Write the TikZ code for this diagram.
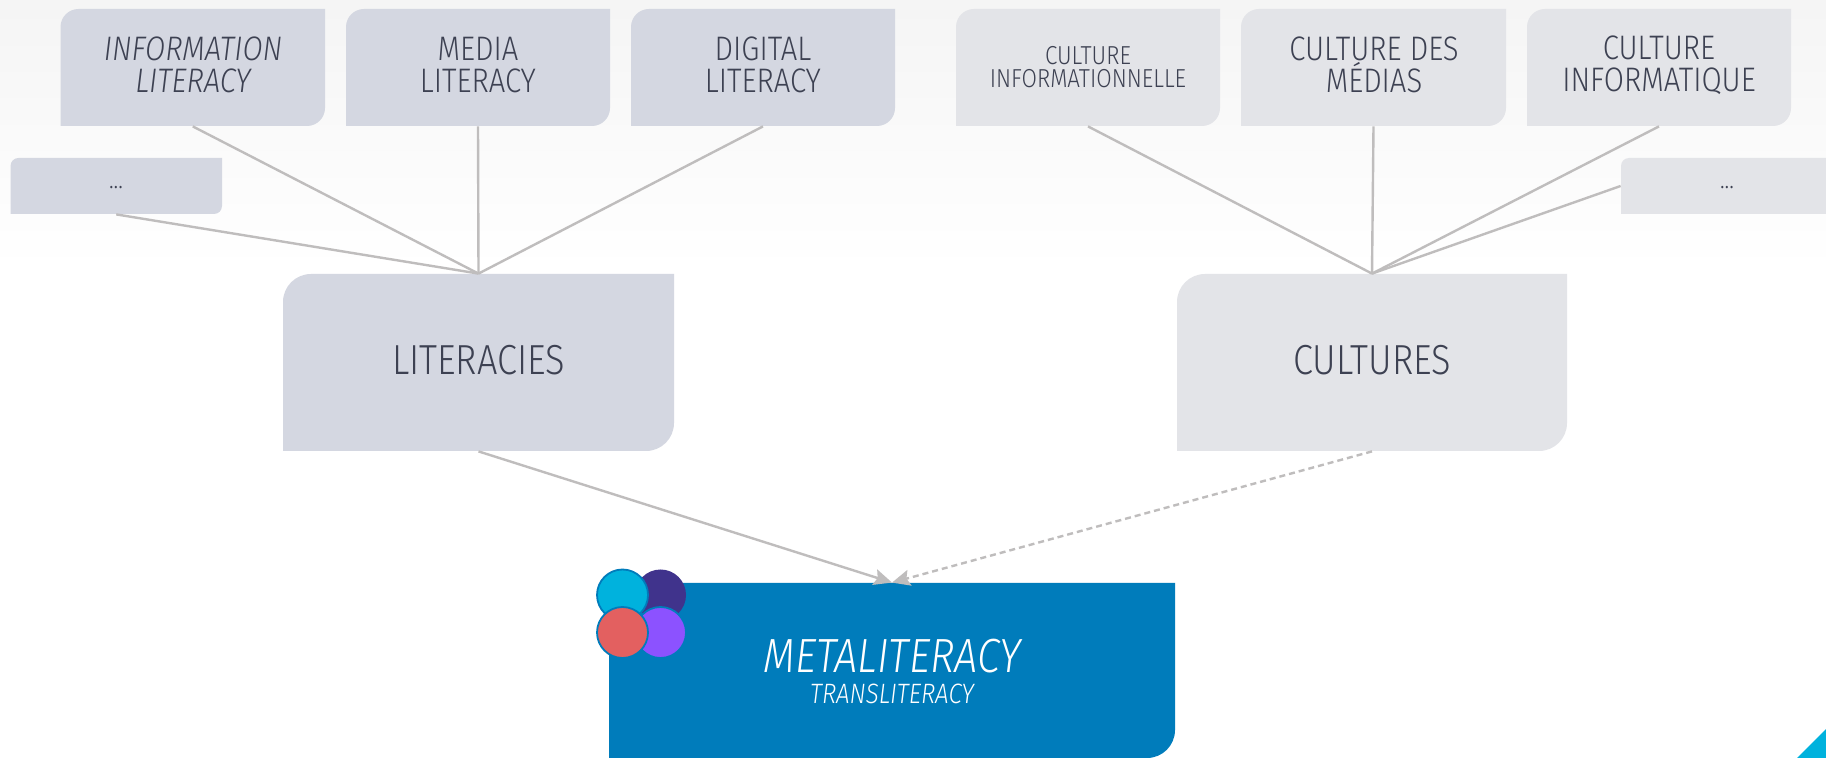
\documentclass[tikz,border=0pt]{standalone}
\usepackage{fontspec}
\setmainfont{Fira Sans Light}[FakeStretch=0.86]
\newfontfamily\itf{Fira Sans Light Italic}[FakeStretch=0.86]
\usetikzlibrary{arrows.meta,calc}
\definecolor{litc}{HTML}{D4D7E1}
\definecolor{culc}{HTML}{E3E4E8}
\definecolor{inkc}{HTML}{3D4152}
\definecolor{linec}{HTML}{BFBDBD}
\definecolor{metac}{HTML}{007CBB}
\definecolor{cyanc}{HTML}{00B2DD}
\definecolor{navyc}{HTML}{40338C}
\definecolor{redc}{HTML}{E36060}
\definecolor{purpc}{HTML}{8C52FF}
\newcommand{\shapebox}[7]{%
  \fill[#7] (#2,#5) [rounded corners=#6*0.5pt] -- (#2,#3) [sharp corners] -- (#4,#3) [rounded corners=#6*0.5pt] -- (#4,#5) [sharp corners] -- cycle;
  \coordinate (#1 c) at ({(#2+#4)/2},{(#3+#5)/2});
  \node[inner sep=0pt,minimum width={(#4-#2)*0.5pt},minimum height={(#5-#3)*0.5pt}] (#1) at (#1 c) {};
}
\tikzset{
  x=0.5pt,y=-0.5pt,
  lbl/.style={text=inkc,align=center,inner sep=0pt},
  link/.style={draw=linec,line width=1.2pt},
  petal/.style={draw=metac,line width=0.9pt},
}
\begin{document}
\begin{tikzpicture}
\useasboundingbox (0,0) rectangle (1826,758);
\fill[top color=white!0!white,bottom color=white] (0,0) rectangle (1826,758);
\fill[top color=white,bottom color=white] (0,0) rectangle (1826,758);
\shade[top color=black!4!white,bottom color=white] (0,0) rectangle (1826,270);
\fill[cyanc] (1826,729) -- (1826,758) -- (1797,758) -- cycle;
% boxes
\shapebox{i1}{60.5}{9}{325}{126}{18}{litc}
\shapebox{i2}{346}{9}{610}{126}{18}{litc}
\shapebox{i3}{631}{9}{895}{126}{18}{litc}
\shapebox{dl}{10.5}{158}{222}{214}{8}{litc}
\shapebox{lit}{283}{274}{674}{451}{28}{litc}
\shapebox{c1}{956}{9}{1220}{126}{18}{culc}
\shapebox{c2}{1241}{9}{1506}{126}{18}{culc}
\shapebox{c3}{1527}{9}{1791}{126}{18}{culc}
\shapebox{dr}{1621}{158}{1840}{214}{8}{culc}
\shapebox{cul}{1177}{274}{1567}{451}{28}{culc}
\shapebox{meta}{609}{583}{1175}{758}{28}{metac}
% connectors
\draw[link] (i1.south) -- (lit.north);
\draw[link] (i2.south) -- (lit.north);
\draw[link] (i3.south) -- (lit.north);
\draw[link] (dl.south) -- (lit.north);
\draw[link] (c1.south) -- (cul.north);
\draw[link] (c2.south) -- (cul.north);
\draw[link] (c3.south) -- (cul.north);
\draw[link] (dr.west |- 0,186) -- (cul.north);
\draw[link,-{Stealth[length=9pt,width=8pt,inset=1.5pt]}] (lit.south) -- (meta.north);
\draw[link,dash pattern=on 3pt off 2pt,-{Stealth[length=9pt,width=8pt,inset=1.5pt]}] (cul.south) -- (meta.north);
% petals
\node[circle,fill=navyc,minimum size=25.5pt,inner sep=0pt] (pn) at (660.5,595) {};
\node[circle,fill=cyanc,petal,minimum size=25.5pt,inner sep=0pt] (pc) at (622.5,595) {};
\node[circle,fill=purpc,petal,minimum size=25.5pt,inner sep=0pt] (pp) at (660.5,632.5) {};
\node[circle,fill=redc,petal,minimum size=25.5pt,inner sep=0pt] (pr) at (622.5,632.5) {};
% labels
\node[lbl,font=\itf\fontsize{17}{16}\selectfont] (ti1) at (193,65) {INFORMATION\\LITERACY};
\node[lbl,font=\fontsize{17}{16}\selectfont] (ti2) at (478,65) {MEDIA\\LITERACY};
\node[lbl,font=\fontsize{17}{16}\selectfont] (ti3) at (763,65) {DIGITAL\\LITERACY};
\node[lbl,font=\fontsize{13}{11.5}\selectfont] (tc1) at (1088,67) {CULTURE\\INFORMATIONNELLE};
\node[lbl,font=\fontsize{17}{16}\selectfont] (tc2) at (1374,65) {CULTURE DES\\MÉDIAS};
\node[lbl,font=\fontsize{17}{16}\selectfont] (tc3) at (1659,65) {CULTURE\\INFORMATIQUE};
\node[lbl,font=\fontsize{13}{14}\selectfont] (tdl) at (116,188) {...};
\node[lbl,font=\fontsize{13}{14}\selectfont] (tdr) at (1727,188) {...};
\node[lbl,font=\fontsize{21}{24}\selectfont] (tlit) at (478.5,360) {LITERACIES};
\node[lbl,font=\fontsize{21}{24}\selectfont] (tcul) at (1372,360) {CULTURES};
\node[lbl,text=white,font=\itf\fontsize{24}{26}\selectfont] (tm) at (892,656) {METALITERACY};
\node[lbl,text=white,font=\itf\fontsize{14}{16}\selectfont] (tt) at (892,694) {TRANSLITERACY};
\end{tikzpicture}
\end{document}
